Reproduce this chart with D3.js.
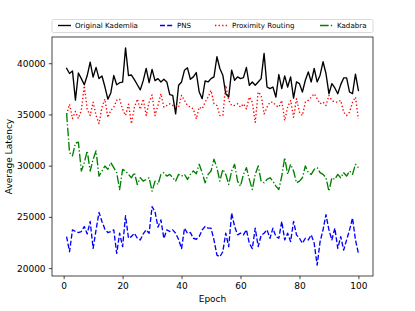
<!DOCTYPE html>
<html><head><meta charset="utf-8">
<script src="https://cdn.jsdelivr.net/npm/d3@7"></script>
<style>
html,body{margin:0;padding:0;background:#fff;}
svg text{font-family:"DejaVu Sans",sans-serif;fill:#000;}
</style></head>
<body>
<svg id="chart" width="415" height="311"></svg>
<script>
const epochs = d3.range(1, 101);
const kademlia = [39500,39000,39250,36400,39050,38500,37900,38800,40100,38650,
39600,38500,38750,37700,36500,37100,38800,37900,38100,38150,
41500,38800,38850,38400,37900,37400,38300,39500,38100,39400,
38300,38500,38174,38436,38174,36927,36861,35057,37846,38174,
39322,39552,38436,38666,39092,37189,36533,38272,38174,38502,
38666,40634,39486,38830,37025,36697,39322,38338,38666,38502,
38600,39584,37846,38174,37846,38174,38502,40962,37681,37517,
37681,36697,38895,37517,38764,37681,38666,36599,38174,38010,
37189,38338,39158,38174,39486,38174,38830,40142,38994,37025,
38010,37583,37025,37911,38567,38567,37189,37025,38928,37353];
const pns = [23081,21604,23737,23573,23474,23573,24065,23343,24557,21932,
23737,25443,24557,23803,23474,23573,23737,21440,23409,22097,
25115,22917,23081,23409,22917,22753,23343,23737,23409,26000,
25500,24000,24700,22900,23737,23573,23737,23409,22800,21900,
23901,23409,23474,22917,22818,23081,23737,24065,23901,23901,
22753,21276,21112,21600,23409,22097,25378,24065,23245,23409,
23245,23737,22425,21900,23901,22100,23200,23409,23737,22917,
23901,23081,22917,24557,22753,23409,22589,24557,23245,22917,
22425,22917,22753,23245,22425,20292,22589,23737,25213,23737,
22753,23901,21932,23081,21768,22753,23737,24885,22753,21440];
const proximity = [35000,36000,34600,35300,34600,35400,37800,35500,34900,36200,
34900,34100,35700,36500,34700,35400,35700,36400,36500,35500,
34900,36000,34100,35700,36500,35500,36500,34900,36200,36900,
34893,35877,37025,35713,35877,36041,35877,35877,35713,36861,
36369,35877,35713,35549,34565,35713,35549,36205,36697,37353,
36041,35877,34893,34893,37846,36369,35877,35877,36041,35713,
36041,35549,36697,36205,34237,37189,36861,35057,35713,36205,
36205,35877,35713,36369,34401,35713,36369,34729,36533,35221,
34893,36205,36369,36697,37025,36533,36041,36205,35877,36861,
36369,36205,36205,36369,35221,34893,35221,36205,36697,34565];
const kadabra = [35100,31283,30955,32200,32300,29479,30299,31448,29479,30627,
31448,28987,29479,29971,29643,30299,29807,29315,27674,29643,
29479,29151,28823,29315,28166,28823,28495,28659,28823,27510,
28495,28166,29151,29315,28987,29151,28823,28495,29151,28987,
29151,28659,29151,29479,29216,30135,29315,28331,29151,29479,
30627,29807,28495,29643,29151,28166,29479,30135,28495,28002,
29151,29807,28659,27674,29151,29971,28495,28331,28659,28823,
28495,28002,27674,28987,30791,29151,30135,29479,28331,28495,
28823,29971,29315,29151,29643,29807,29315,29151,28823,27510,
28823,28659,29151,28823,29315,28987,29479,29151,30135,29807];
const xTicks = [0, 20, 40, 60, 80, 100];
const yTicks = [20000, 25000, 30000, 35000, 40000];
const seriesNames = ["Original Kademlia", "PNS", "Proximity Routing", "Kadabra"];

const series = [
  {name: seriesNames[0], values: kademlia, color: "#000000", dash: null},
  {name: seriesNames[1], values: pns, color: "#0000ff", dash: "5,2.16"},
  {name: seriesNames[2], values: proximity, color: "#ff0000", dash: "1.35,2.23"},
  {name: seriesNames[3], values: kadabra, color: "#008000", dash: "8.64,2.16,1.35,2.16"}
];

const svg = d3.select("#chart");
const L = 52, R = 373, T = 37, B = 276;
const x = d3.scaleLinear().domain([-3.95, 104.95]).range([L, R]);
const allV = [].concat(kademlia, pns, proximity, kadabra);
const vmin = d3.min(allV), vmax = d3.max(allV), pad = (vmax - vmin) * 0.05;
const y = d3.scaleLinear().domain([vmin - pad, vmax + pad]).range([B, T]);

const line = d3.line().x((d, i) => x(epochs[i])).y(d => y(d));
const g = svg.append("g");
series.forEach(s => {
  g.append("path").datum(s.values)
    .attr("d", line)
    .attr("fill", "none")
    .attr("stroke", s.color)
    .attr("stroke-width", 1.35)
    .attr("stroke-linejoin", "round")
    .attr("stroke-linecap", s.dash ? "butt" : "square")
    .attr("stroke-dasharray", s.dash);
});

const xAxis = svg.append("g").attr("transform", `translate(0,${B})`)
  .call(d3.axisBottom(x).tickValues(xTicks).tickSize(3.2).tickPadding(3.2).tickFormat(d3.format("d")));
const yAxis = svg.append("g").attr("transform", `translate(${L},0)`)
  .call(d3.axisLeft(y).tickValues(yTicks).tickSize(3.2).tickPadding(3.2).tickFormat(d3.format("d")));
[xAxis, yAxis].forEach(a => {
  a.select(".domain").remove();
  a.selectAll("line").attr("stroke", "#000").attr("stroke-width", 0.72);
  a.selectAll("text").attr("font-size", 9).attr("font-family", "DejaVu Sans").attr("fill", "#000");
});

svg.append("rect").attr("x", L).attr("y", T).attr("width", R - L).attr("height", B - T)
  .attr("fill", "none").attr("stroke", "#000").attr("stroke-width", 0.72);

svg.append("text").attr("x", (L + R) / 2).attr("y", 302).attr("text-anchor", "middle")
  .attr("font-size", 9).text("Epoch");
svg.append("text").attr("transform", `translate(12,${(T + B) / 2}) rotate(-90)`)
  .attr("text-anchor", "middle").attr("font-size", 9).text("Average Latency");

// legend
const leg = svg.append("g");
leg.append("rect").attr("x", 52).attr("y", 19.5).attr("width", 321).attr("height", 13)
  .attr("rx", 1.5).attr("fill", "#fff").attr("stroke", "#cccccc").attr("stroke-width", 0.72);
const legX = [58, 160, 215, 320];
series.forEach((s, i) => {
  leg.append("line").attr("x1", legX[i]).attr("x2", legX[i] + 13)
    .attr("y1", 25.5).attr("y2", 25.5)
    .attr("stroke", s.color).attr("stroke-width", 1.35)
    .attr("stroke-dasharray", s.dash);
  leg.append("text").attr("x", legX[i] + 17).attr("y", 25.8).attr("dy", "0.35em")
    .attr("font-size", 7.1).text(s.name);
});
</script>
</body></html>
